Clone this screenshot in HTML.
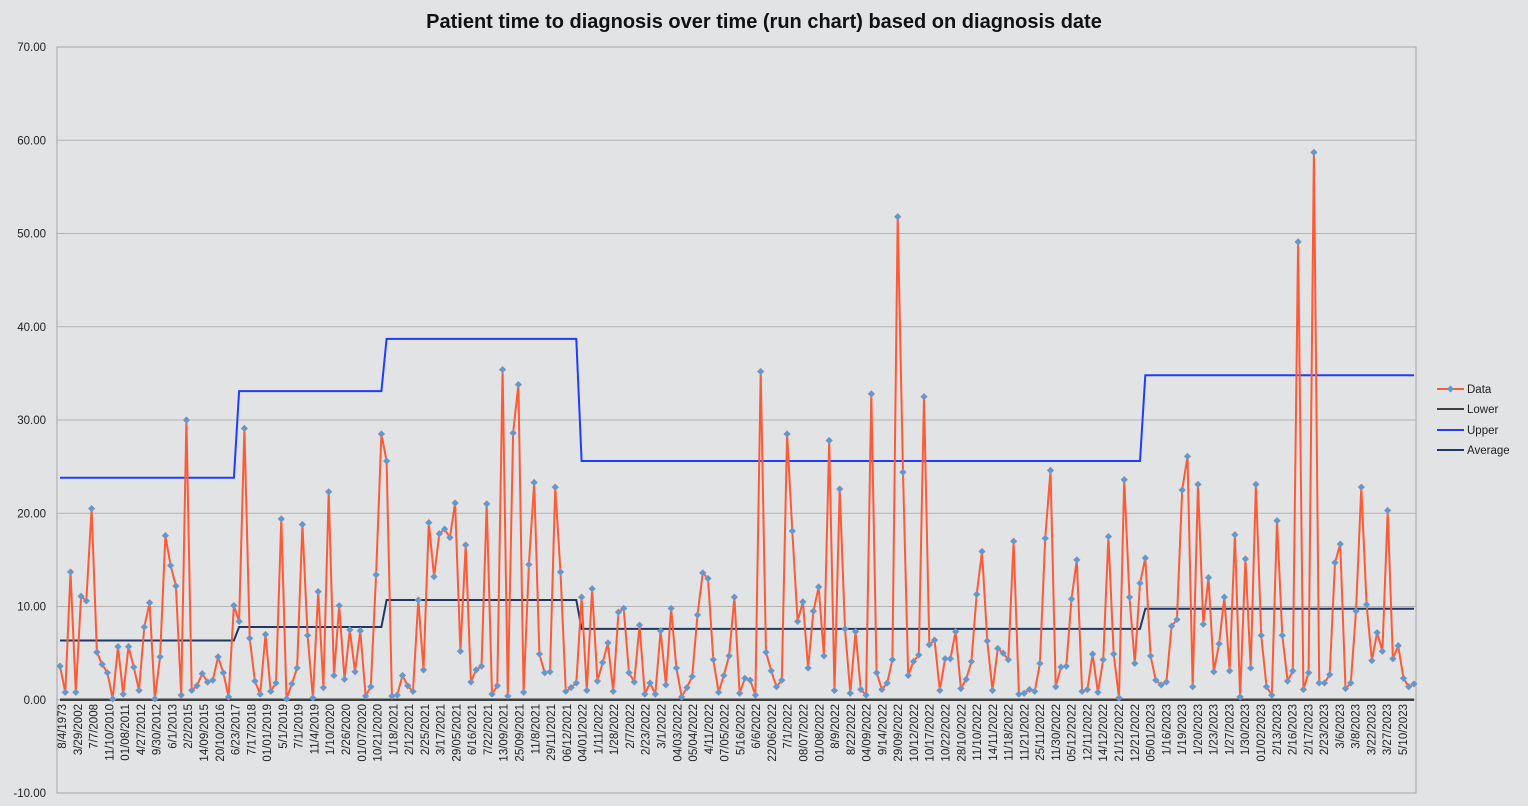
<!DOCTYPE html>
<html><head><meta charset="utf-8"><title>Run chart</title>
<style>
html,body{margin:0;padding:0;background:#e2e3e5;}
svg{display:block;font-family:"Liberation Sans",sans-serif;}
</style></head><body>
<svg id="chart" width="1528" height="806" viewBox="0 0 1528 806">
<rect x="0" y="0" width="1528" height="806" fill="#e2e3e5"/>
<text x="764" y="28" text-anchor="middle" font-size="20" font-weight="bold" fill="#111">Patient time to diagnosis over time (run chart) based on diagnosis date</text>
<g id="grid"></g>
<g id="yaxis"></g>
<g id="xaxis"></g>
<g id="series"></g>
<g id="legend">
  <g>
    <line x1="1437" y1="389" x2="1464" y2="389" stroke="#ff5a36" stroke-width="2"/>
    <path d="M1450.5 385.5 L1454 389 L1450.5 392.5 L1447 389 Z" fill="#5b9bd5"/>
    <text x="1467" y="393" font-size="11.5" fill="#222">Data</text>
  </g>
  <g>
    <line x1="1437" y1="409" x2="1464" y2="409" stroke="#404040" stroke-width="2"/>
    <text x="1467" y="413" font-size="11.5" fill="#222">Lower</text>
  </g>
  <g>
    <line x1="1437" y1="430" x2="1464" y2="430" stroke="#1f3cff" stroke-width="2"/>
    <text x="1467" y="434" font-size="11.5" fill="#222">Upper</text>
  </g>
  <g>
    <line x1="1437" y1="450" x2="1464" y2="450" stroke="#1f3864" stroke-width="2"/>
    <text x="1467" y="454" font-size="11.5" fill="#222">Average</text>
  </g>
</g>
</svg>
<script>
const dataValues = [3.6,0.8,13.7,0.8,11.1,10.6,20.5,5.1,3.8,2.9,
0.1,5.7,0.6,5.7,3.5,1.0,7.8,10.4,0.1,4.6,
17.6,14.4,12.2,0.5,30.0,1.0,1.5,2.8,1.9,2.1,
4.6,2.9,0.3,10.1,8.4,29.1,6.6,2.0,0.6,7.0,
0.9,1.8,19.4,0.1,1.7,3.4,18.8,6.9,0.2,11.6,
1.3,22.3,2.6,10.1,2.2,7.5,3.0,7.4,0.4,1.4,
13.4,28.5,25.6,0.4,0.5,2.6,1.5,0.9,10.7,3.2,
19.0,13.2,17.8,18.3,17.4,21.1,5.2,16.6,1.9,3.2,
3.6,21.0,0.6,1.5,35.4,0.4,28.6,33.8,0.8,14.5,
23.3,4.9,2.9,3.0,22.8,13.7,0.9,1.3,1.8,11.0,
1.0,11.9,2.0,4.0,6.1,0.9,9.4,9.8,2.9,1.9,
8.0,0.6,1.8,0.6,7.4,1.6,9.8,3.4,0.3,1.3,
2.5,9.1,13.6,13.0,4.3,0.8,2.6,4.7,11.0,0.7,
2.3,2.1,0.5,35.2,5.1,3.1,1.4,2.1,28.5,18.1,
8.4,10.5,3.4,9.5,12.1,4.7,27.8,1.0,22.6,7.6,
0.7,7.3,1.1,0.5,32.8,2.9,1.1,1.8,4.3,51.8,
24.4,2.6,4.1,4.8,32.5,5.9,6.4,1.0,4.4,4.4,
7.3,1.2,2.2,4.1,11.3,15.9,6.3,1.0,5.5,5.0,
4.3,17.0,0.6,0.7,1.1,0.9,3.9,17.3,24.6,1.4,
3.5,3.6,10.8,15.0,0.9,1.1,4.9,0.8,4.3,17.5,
4.9,0.2,23.6,11.0,3.9,12.5,15.2,4.7,2.1,1.6,
1.9,7.9,8.6,22.5,26.1,1.4,23.1,8.1,13.1,3.0,
6.0,11.0,3.1,17.7,0.3,15.1,3.4,23.1,6.9,1.4,
0.5,19.2,6.9,2.0,3.1,49.1,1.1,2.9,58.7,1.8,
1.8,2.7,14.7,16.7,1.2,1.8,9.5,22.8,10.2,4.2,
7.2,5.2,20.3,4.4,5.8,2.3,1.4,1.7];
// segment boundaries: last point index (1-based) of each control-limit phase
const segmentEnds = [34, 62, 99, 206, 258];
const averageValues = [6.35, 7.8, 10.7, 7.6, 9.75];
const upperValues = [23.8, 33.1, 38.7, 25.6, 34.8];
const lowerValues = [0, 0, 0, 0, 0];
const yTicks = [70,60,50,40,30,20,10,0,-10];
const xLabels = ["8/4/1973","3/29/2002","7/7/2008","11/10/2010","01/08/2011","4/27/2012","9/30/2012","6/1/2013","2/2/2015","14/09/2015","20/10/2016","6/23/2017","7/17/2018","01/01/2019","5/1/2019","7/1/2019","11/4/2019","1/10/2020","2/26/2020","01/07/2020","10/21/2020","1/18/2021",
"2/12/2021","2/25/2021","3/17/2021","29/05/2021","6/16/2021","7/22/2021","13/09/2021","25/09/2021","11/8/2021","29/11/2021","06/12/2021","04/01/2022","1/11/2022","1/28/2022","2/7/2022","2/23/2022","3/1/2022","04/03/2022","05/04/2022","4/11/2022","07/05/2022","5/16/2022",
"6/6/2022","22/06/2022","7/1/2022","08/07/2022","01/08/2022","8/9/2022","8/22/2022","04/09/2022","9/14/2022","29/09/2022","10/12/2022","10/17/2022","10/22/2022","28/10/2022","11/10/2022","14/11/2022","11/18/2022","11/21/2022","25/11/2022","11/30/2022","05/12/2022","12/11/2022",
"14/12/2022","21/12/2022","12/21/2022","05/01/2023","1/16/2023","1/19/2023","1/20/2023","1/23/2023","1/27/2023","1/30/2023","01/02/2023","2/13/2023","2/16/2023","2/17/2023","2/23/2023","3/6/2023","3/8/2023","3/22/2023","3/27/2023","5/10/2023"];

const NS = "http://www.w3.org/2000/svg";
const plotL = 57, plotR = 1416, plotT = 47, plotB = 793;
const yMin = -10, yMax = 70;
const firstX = 60, lastX = 1414;
function yScale(v){ return plotB - (v - yMin) / (yMax - yMin) * (plotB - plotT); }
function xScale(i){ return firstX + i * (lastX - firstX) / (dataValues.length - 1); }
function mk(tag, attrs, parent){ const e = document.createElementNS(NS, tag); for (const k in attrs) e.setAttribute(k, attrs[k]); parent.appendChild(e); return e; }

const grid = document.getElementById('grid');
const yaxis = document.getElementById('yaxis');
const xaxis = document.getElementById('xaxis');
const series = document.getElementById('series');

const frame = mk('rect', {x: plotL, y: plotT, width: plotR - plotL, height: plotB - plotT, fill: 'none', stroke: '#a6a6a6', 'stroke-width': 1}, grid);



yTicks.forEach(t => {
  const y = yScale(t);
  if (t !== yMax && t !== yMin) {
    const g = mk('line', {x1: plotL, y1: y, x2: plotR, y2: y, stroke: '#b3b3b3', 'stroke-width': 1}, grid);
    
    
  }
  const lab = mk('text', {x: 46, y: y + 4, 'text-anchor': 'end', 'font-size': 11.5, fill: '#222'}, yaxis);
  lab.textContent = t.toFixed(2);
  
  
});

const lx0 = 62, lx1 = 1403;
xLabels.forEach((s, k) => {
  const x = lx0 + k * (lx1 - lx0) / (xLabels.length - 1);
  const t = mk('text', {x: 0, y: 0, 'text-anchor': 'end', 'font-size': 11.5, fill: '#222', transform: 'translate(' + (x + 4) + ',' + 704 + ') rotate(-90)'}, xaxis);
  t.textContent = s;
  
  
});

function stepPoints(vals){
  const pts = []; let start = 0;
  for (let i = 0; i < dataValues.length; i++) {
    let seg = 0; while (i + 1 > segmentEnds[seg]) seg++;
    pts.push(xScale(i).toFixed(1) + ',' + yScale(vals[seg]).toFixed(1));
  }
  return pts.join(' ');
}

const lower = mk('polyline', {points: stepPoints(lowerValues), fill: 'none', stroke: '#404040', 'stroke-width': 2.5}, series);


const upper = mk('polyline', {points: stepPoints(upperValues), fill: 'none', stroke: '#1f3cff', 'stroke-width': 2}, series);


const avg = mk('polyline', {points: stepPoints(averageValues), fill: 'none', stroke: '#1f3864', 'stroke-width': 2}, series);



const dpts = dataValues.map((v, i) => xScale(i).toFixed(1) + ',' + yScale(v).toFixed(1)).join(' ');
const dl = mk('polyline', {points: dpts, fill: 'none', stroke: '#ff5a36', 'stroke-width': 2, 'stroke-linejoin': 'round'}, series);



dataValues.forEach((v, i) => {
  const x = xScale(i), y = yScale(v);
  const m = mk('path', {d: 'M' + x + ' ' + (y - 3.5) + ' L' + (x + 3.5) + ' ' + y + ' L' + x + ' ' + (y + 3.5) + ' L' + (x - 3.5) + ' ' + y + ' Z', fill: '#5b9bd5', stroke: '#e08a80', 'stroke-width': 0.4}, series);
  
  
});
</script>
</body></html>
